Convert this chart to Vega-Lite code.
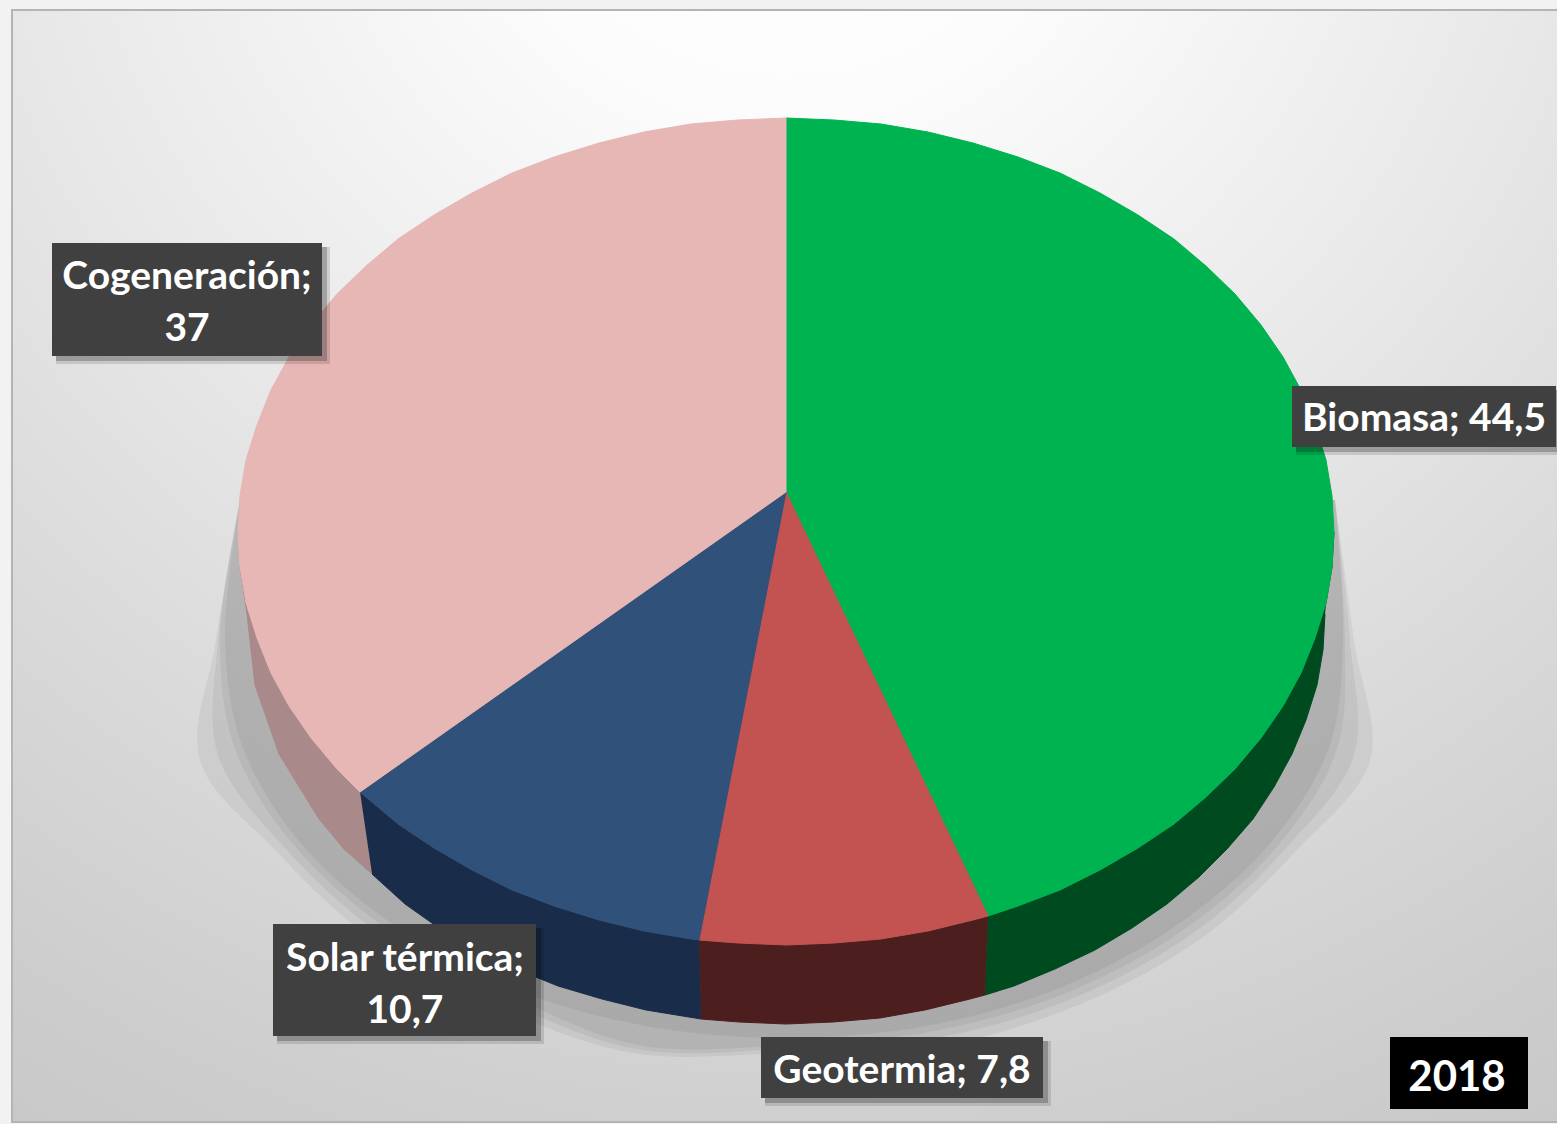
{"$schema":"https://vega.github.io/schema/vega-lite/v6.json","width":1557,"height":1124,"autosize":{"type":"none"},"padding":0,"background":"#f2f2f2","config":{"view":{"stroke":null}},
"datasets":{
"panel":[{"x0":12,"x1":1558,"y0":10,"y1":1122}],
"sombra":[
{"capa":"A","x":1335,"y":500},{"capa":"A","x":1354,"y":640},{"capa":"A","x":1370,"y":760},{"capa":"A","x":1297,"y":850},{"capa":"A","x":1203,"y":937},{"capa":"A","x":1081,"y":1004},{"capa":"A","x":939,"y":1046},{"capa":"A","x":786,"y":1053},{"capa":"A","x":633,"y":1053},{"capa":"A","x":491,"y":1004},{"capa":"A","x":369,"y":937},{"capa":"A","x":275,"y":850},{"capa":"A","x":200,"y":760},{"capa":"A","x":216,"y":640},{"capa":"A","x":240,"y":500},
{"capa":"AB","x":1335,"y":500},{"capa":"AB","x":1350,"y":640},{"capa":"AB","x":1354,"y":755},{"capa":"AB","x":1288,"y":846},{"capa":"AB","x":1196,"y":931},{"capa":"AB","x":1076,"y":997},{"capa":"AB","x":936,"y":1038},{"capa":"AB","x":786,"y":1049},{"capa":"AB","x":636,"y":1049},{"capa":"AB","x":496,"y":997},{"capa":"AB","x":376,"y":931},{"capa":"AB","x":283,"y":846},{"capa":"AB","x":218,"y":755},{"capa":"AB","x":218,"y":640},{"capa":"AB","x":240,"y":500},
{"capa":"B","x":1335,"y":500},{"capa":"B","x":1345,"y":640},{"capa":"B","x":1337,"y":749},{"capa":"B","x":1280,"y":843},{"capa":"B","x":1189,"y":926},{"capa":"B","x":1071,"y":991},{"capa":"B","x":934,"y":1031},{"capa":"B","x":786,"y":1045},{"capa":"B","x":638,"y":1045},{"capa":"B","x":501,"y":991},{"capa":"B","x":383,"y":926},{"capa":"B","x":292,"y":843},{"capa":"B","x":235,"y":749},{"capa":"B","x":220,"y":640},{"capa":"B","x":240,"y":500},
{"capa":"BC","x":1335,"y":500},{"capa":"BC","x":1343,"y":640},{"capa":"BC","x":1330,"y":745},{"capa":"BC","x":1273,"y":840},{"capa":"BC","x":1183,"y":921},{"capa":"BC","x":1067,"y":985},{"capa":"BC","x":932,"y":1025},{"capa":"BC","x":786,"y":1038},{"capa":"BC","x":640,"y":1025},{"capa":"BC","x":504,"y":985},{"capa":"BC","x":388,"y":921},{"capa":"BC","x":298,"y":840},{"capa":"BC","x":242,"y":745},{"capa":"BC","x":225,"y":640},{"capa":"BC","x":240,"y":500}
],
"caras":[
{"parte":"Biomasa lateral","x":1334,"y":532},{"parte":"Biomasa lateral","x":1332,"y":567},{"parte":"Biomasa lateral","x":1326,"y":603},{"parte":"Biomasa lateral","x":1315,"y":638},{"parte":"Biomasa lateral","x":1301,"y":673},{"parte":"Biomasa lateral","x":1283,"y":706},{"parte":"Biomasa lateral","x":1261,"y":738},{"parte":"Biomasa lateral","x":1235,"y":769},{"parte":"Biomasa lateral","x":1206,"y":797},{"parte":"Biomasa lateral","x":1174,"y":824},{"parte":"Biomasa lateral","x":1138,"y":848},{"parte":"Biomasa lateral","x":1100,"y":870},{"parte":"Biomasa lateral","x":1060,"y":890},{"parte":"Biomasa lateral","x":1018,"y":906},{"parte":"Biomasa lateral","x":988,"y":916},{"parte":"Biomasa lateral","x":985,"y":995},{"parte":"Biomasa lateral","x":1014,"y":986},{"parte":"Biomasa lateral","x":1055,"y":969},{"parte":"Biomasa lateral","x":1095,"y":950},{"parte":"Biomasa lateral","x":1132,"y":928},{"parte":"Biomasa lateral","x":1167,"y":904},{"parte":"Biomasa lateral","x":1199,"y":877},{"parte":"Biomasa lateral","x":1227,"y":849},{"parte":"Biomasa lateral","x":1253,"y":819},{"parte":"Biomasa lateral","x":1274,"y":787},{"parte":"Biomasa lateral","x":1292,"y":754},{"parte":"Biomasa lateral","x":1306,"y":720},{"parte":"Biomasa lateral","x":1317,"y":685},{"parte":"Biomasa lateral","x":1323,"y":650},{"parte":"Biomasa lateral","x":1325,"y":614},
{"parte":"Geotermia lateral","x":988,"y":916},{"parte":"Geotermia lateral","x":973,"y":920},{"parte":"Geotermia lateral","x":928,"y":931},{"parte":"Geotermia lateral","x":881,"y":939},{"parte":"Geotermia lateral","x":834,"y":943},{"parte":"Geotermia lateral","x":786,"y":945},{"parte":"Geotermia lateral","x":738,"y":943},{"parte":"Geotermia lateral","x":699,"y":940},{"parte":"Geotermia lateral","x":701,"y":1019},{"parte":"Geotermia lateral","x":739,"y":1022},{"parte":"Geotermia lateral","x":786,"y":1024},{"parte":"Geotermia lateral","x":833,"y":1022},{"parte":"Geotermia lateral","x":880,"y":1018},{"parte":"Geotermia lateral","x":925,"y":1010},{"parte":"Geotermia lateral","x":970,"y":999},{"parte":"Geotermia lateral","x":985,"y":995},
{"parte":"Solar térmica lateral","x":699,"y":940},{"parte":"Solar térmica lateral","x":691,"y":939},{"parte":"Solar térmica lateral","x":644,"y":931},{"parte":"Solar térmica lateral","x":599,"y":920},{"parte":"Solar térmica lateral","x":554,"y":906},{"parte":"Solar térmica lateral","x":512,"y":890},{"parte":"Solar térmica lateral","x":472,"y":870},{"parte":"Solar térmica lateral","x":434,"y":848},{"parte":"Solar térmica lateral","x":398,"y":824},{"parte":"Solar térmica lateral","x":360,"y":792},{"parte":"Solar térmica lateral","x":372,"y":874},{"parte":"Solar térmica lateral","x":405,"y":904},{"parte":"Solar térmica lateral","x":439,"y":928},{"parte":"Solar térmica lateral","x":477,"y":950},{"parte":"Solar térmica lateral","x":516,"y":969},{"parte":"Solar térmica lateral","x":558,"y":986},{"parte":"Solar térmica lateral","x":602,"y":999},{"parte":"Solar térmica lateral","x":646,"y":1010},{"parte":"Solar térmica lateral","x":701,"y":1019},
{"parte":"Cogeneración lateral","x":360,"y":792},{"parte":"Cogeneración lateral","x":337,"y":769},{"parte":"Cogeneración lateral","x":311,"y":738},{"parte":"Cogeneración lateral","x":289,"y":706},{"parte":"Cogeneración lateral","x":271,"y":673},{"parte":"Cogeneración lateral","x":257,"y":638},{"parte":"Cogeneración lateral","x":246,"y":603},{"parte":"Cogeneración lateral","x":240,"y":567},{"parte":"Cogeneración lateral","x":247,"y":614},{"parte":"Cogeneración lateral","x":255,"y":685},{"parte":"Cogeneración lateral","x":279,"y":754},{"parte":"Cogeneración lateral","x":319,"y":819},{"parte":"Cogeneración lateral","x":344,"y":849},{"parte":"Cogeneración lateral","x":372,"y":874},
{"parte":"Biomasa","x":786,"y":492},{"parte":"Biomasa","x":786,"y":118},{"parte":"Biomasa","x":834,"y":120},{"parte":"Biomasa","x":881,"y":124},{"parte":"Biomasa","x":928,"y":132},{"parte":"Biomasa","x":973,"y":143},{"parte":"Biomasa","x":1018,"y":157},{"parte":"Biomasa","x":1060,"y":173},{"parte":"Biomasa","x":1100,"y":193},{"parte":"Biomasa","x":1138,"y":215},{"parte":"Biomasa","x":1174,"y":239},{"parte":"Biomasa","x":1206,"y":266},{"parte":"Biomasa","x":1235,"y":294},{"parte":"Biomasa","x":1261,"y":325},{"parte":"Biomasa","x":1283,"y":357},{"parte":"Biomasa","x":1301,"y":390},{"parte":"Biomasa","x":1315,"y":425},{"parte":"Biomasa","x":1326,"y":460},{"parte":"Biomasa","x":1332,"y":496},{"parte":"Biomasa","x":1334,"y":532},{"parte":"Biomasa","x":1332,"y":567},{"parte":"Biomasa","x":1326,"y":603},{"parte":"Biomasa","x":1315,"y":638},{"parte":"Biomasa","x":1301,"y":673},{"parte":"Biomasa","x":1283,"y":706},{"parte":"Biomasa","x":1261,"y":738},{"parte":"Biomasa","x":1235,"y":769},{"parte":"Biomasa","x":1206,"y":797},{"parte":"Biomasa","x":1174,"y":824},{"parte":"Biomasa","x":1138,"y":848},{"parte":"Biomasa","x":1100,"y":870},{"parte":"Biomasa","x":1060,"y":890},{"parte":"Biomasa","x":1018,"y":906},{"parte":"Biomasa","x":988,"y":916},{"parte":"Biomasa","x":786,"y":492},
{"parte":"Geotermia","x":786,"y":492},{"parte":"Geotermia","x":988,"y":916},{"parte":"Geotermia","x":973,"y":920},{"parte":"Geotermia","x":928,"y":931},{"parte":"Geotermia","x":881,"y":939},{"parte":"Geotermia","x":834,"y":943},{"parte":"Geotermia","x":786,"y":945},{"parte":"Geotermia","x":738,"y":943},{"parte":"Geotermia","x":699,"y":940},{"parte":"Geotermia","x":786,"y":492},
{"parte":"Solar térmica","x":786,"y":492},{"parte":"Solar térmica","x":699,"y":940},{"parte":"Solar térmica","x":691,"y":939},{"parte":"Solar térmica","x":644,"y":931},{"parte":"Solar térmica","x":599,"y":920},{"parte":"Solar térmica","x":554,"y":906},{"parte":"Solar térmica","x":512,"y":890},{"parte":"Solar térmica","x":472,"y":870},{"parte":"Solar térmica","x":434,"y":848},{"parte":"Solar térmica","x":398,"y":824},{"parte":"Solar térmica","x":360,"y":792},{"parte":"Solar térmica","x":786,"y":492},
{"parte":"Cogeneración","x":786,"y":492},{"parte":"Cogeneración","x":360,"y":792},{"parte":"Cogeneración","x":337,"y":769},{"parte":"Cogeneración","x":311,"y":738},{"parte":"Cogeneración","x":289,"y":706},{"parte":"Cogeneración","x":271,"y":673},{"parte":"Cogeneración","x":257,"y":638},{"parte":"Cogeneración","x":246,"y":603},{"parte":"Cogeneración","x":240,"y":567},{"parte":"Cogeneración","x":238,"y":532},{"parte":"Cogeneración","x":240,"y":496},{"parte":"Cogeneración","x":246,"y":460},{"parte":"Cogeneración","x":257,"y":425},{"parte":"Cogeneración","x":271,"y":390},{"parte":"Cogeneración","x":289,"y":357},{"parte":"Cogeneración","x":311,"y":325},{"parte":"Cogeneración","x":337,"y":294},{"parte":"Cogeneración","x":366,"y":266},{"parte":"Cogeneración","x":398,"y":239},{"parte":"Cogeneración","x":434,"y":215},{"parte":"Cogeneración","x":472,"y":193},{"parte":"Cogeneración","x":512,"y":173},{"parte":"Cogeneración","x":554,"y":157},{"parte":"Cogeneración","x":599,"y":143},{"parte":"Cogeneración","x":644,"y":132},{"parte":"Cogeneración","x":691,"y":124},{"parte":"Cogeneración","x":738,"y":120},{"parte":"Cogeneración","x":786,"y":118},{"parte":"Cogeneración","x":786,"y":492}
],
"etiquetas":[
{"fuente":"Cogeneración","valor":37,"etiqueta":"Cogeneración;\n37","x0":52,"x1":322,"y0":243,"y1":356,"xt":187,"yt":277},
{"fuente":"Biomasa","valor":44.5,"etiqueta":"Biomasa; 44,5","x0":1292,"x1":1556,"y0":386,"y1":447,"xt":1424,"yt":419},
{"fuente":"Solar térmica","valor":10.7,"etiqueta":"Solar térmica;\n10,7","x0":273,"x1":536,"y0":924,"y1":1036,"xt":405,"yt":959},
{"fuente":"Geotermia","valor":7.8,"etiqueta":"Geotermia; 7,8","x0":761,"x1":1043,"y0":1037,"y1":1098,"xt":902,"yt":1071}
],
"anio":[{"anio":"2018","x0":1390,"x1":1528,"y0":1037,"y1":1109,"xt":1457,"yt":1078}]
},
"layer":[
{"data":{"name":"panel"},"mark":{"type":"rect","stroke":"#b4b4b4","strokeWidth":2,"color":{"gradient":"radial","x1":0.5,"y1":0,"r1":0,"x2":0.5,"y2":0,"r2":1,"stops":[{"offset":0,"color":"#ffffff"},{"offset":0.2,"color":"#fcfcfc"},{"offset":0.5,"color":"#e8e8e8"},{"offset":0.7,"color":"#dadada"},{"offset":0.9,"color":"#cdcdcd"},{"offset":1,"color":"#c8c8c8"}]}},
"encoding":{"x":{"field":"x0","type":"quantitative","scale":{"domain":[0,1557],"nice":false,"zero":false},"axis":null},"x2":{"field":"x1"},"y":{"field":"y0","type":"quantitative","scale":{"domain":[1124,0],"nice":false,"zero":false},"axis":null},"y2":{"field":"y1"}}},
{"data":{"name":"sombra"},"transform":[{"window":[{"op":"row_number","as":"n"}]}],"mark":{"type":"line","interpolate":"catmull-rom","fill":"#000000","fillOpacity":0.05,"strokeWidth":0,"strokeOpacity":0},
"encoding":{"x":{"field":"x","type":"quantitative","scale":{"domain":[0,1557],"nice":false,"zero":false},"axis":null},"y":{"field":"y","type":"quantitative","scale":{"domain":[1124,0],"nice":false,"zero":false},"axis":null},"detail":{"field":"capa"},"order":{"field":"n","type":"quantitative"}}},
{"data":{"name":"caras"},"transform":[{"window":[{"op":"row_number","as":"n"}]}],"mark":{"type":"line","strokeWidth":1},
"encoding":{"x":{"field":"x","type":"quantitative","scale":{"domain":[0,1557],"nice":false,"zero":false},"axis":null},"y":{"field":"y","type":"quantitative","scale":{"domain":[1124,0],"nice":false,"zero":false},"axis":null},
"fill":{"field":"parte","type":"nominal","legend":null,"sort":null,"scale":{"domain":["Biomasa lateral","Geotermia lateral","Solar térmica lateral","Cogeneración lateral","Biomasa","Geotermia","Solar térmica","Cogeneración"],"range":["#004a20","#4d1e1e","#192d4a","#a98989","#00b351","#c35351","#305179","#e6b7b4"]}},
"stroke":{"field":"parte","type":"nominal","legend":null,"sort":null,"scale":{"domain":["Biomasa lateral","Geotermia lateral","Solar térmica lateral","Cogeneración lateral","Biomasa","Geotermia","Solar térmica","Cogeneración"],"range":["#004a20","#4d1e1e","#192d4a","#a98989","#00b351","#c35351","#305179","#e6b7b4"]}},
"order":{"field":"n","type":"quantitative"}}},
{"data":{"name":"etiquetas"},"mark":{"type":"rect","color":"#000000","opacity":0.12,"xOffset":4,"x2Offset":8,"yOffset":4,"y2Offset":8},
"encoding":{"x":{"field":"x0","type":"quantitative","scale":{"domain":[0,1557],"nice":false,"zero":false},"axis":null},"x2":{"field":"x1"},"y":{"field":"y0","type":"quantitative","scale":{"domain":[1124,0],"nice":false,"zero":false},"axis":null},"y2":{"field":"y1"}}},
{"data":{"name":"etiquetas"},"mark":{"type":"rect","color":"#000000","opacity":0.22,"xOffset":4,"x2Offset":5,"yOffset":4,"y2Offset":5},
"encoding":{"x":{"field":"x0","type":"quantitative","scale":{"domain":[0,1557],"nice":false,"zero":false},"axis":null},"x2":{"field":"x1"},"y":{"field":"y0","type":"quantitative","scale":{"domain":[1124,0],"nice":false,"zero":false},"axis":null},"y2":{"field":"y1"}}},
{"data":{"name":"etiquetas"},"mark":{"type":"rect","color":"#404040"},
"encoding":{"x":{"field":"x0","type":"quantitative","scale":{"domain":[0,1557],"nice":false,"zero":false},"axis":null},"x2":{"field":"x1"},"y":{"field":"y0","type":"quantitative","scale":{"domain":[1124,0],"nice":false,"zero":false},"axis":null},"y2":{"field":"y1"}}},
{"data":{"name":"etiquetas"},"mark":{"type":"text","font":"Lato","fontWeight":"bold","fontSize":39,"color":"#ffffff","align":"center","baseline":"middle","lineBreak":"\n","lineHeight":52},
"encoding":{"x":{"field":"xt","type":"quantitative","scale":{"domain":[0,1557],"nice":false,"zero":false},"axis":null},"y":{"field":"yt","type":"quantitative","scale":{"domain":[1124,0],"nice":false,"zero":false},"axis":null},"text":{"field":"etiqueta","type":"nominal"}}},
{"data":{"name":"anio"},"mark":{"type":"rect","color":"#000000"},
"encoding":{"x":{"field":"x0","type":"quantitative","scale":{"domain":[0,1557],"nice":false,"zero":false},"axis":null},"x2":{"field":"x1"},"y":{"field":"y0","type":"quantitative","scale":{"domain":[1124,0],"nice":false,"zero":false},"axis":null},"y2":{"field":"y1"}}},
{"data":{"name":"anio"},"mark":{"type":"text","font":"Lato","fontWeight":"bold","fontSize":42,"color":"#ffffff","align":"center","baseline":"middle"},
"encoding":{"x":{"field":"xt","type":"quantitative","scale":{"domain":[0,1557],"nice":false,"zero":false},"axis":null},"y":{"field":"yt","type":"quantitative","scale":{"domain":[1124,0],"nice":false,"zero":false},"axis":null},"text":{"field":"anio","type":"nominal"}}}
]}
